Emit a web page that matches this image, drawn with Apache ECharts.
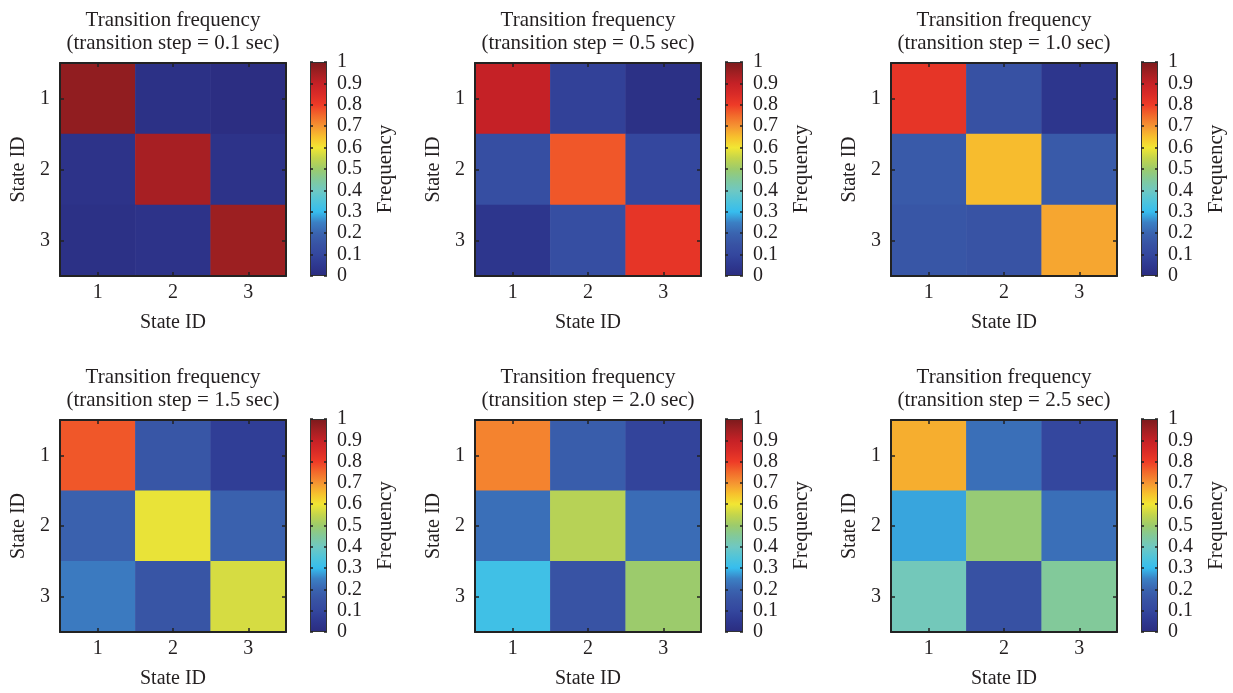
<!DOCTYPE html>
<html>
<head>
<meta charset="utf-8">
<script src="https://cdn.jsdelivr.net/npm/echarts@6/dist/echarts.min.js"></script>
<style>html,body{margin:0;padding:0;background:#fff;}#c{width:1233px;height:693px;}</style>
</head>
<body>
<div id="c"></div>
<script>
// ---- data ----
var states = ['1', '2', '3'];
var steps = ['0.1', '0.5', '1.0', '1.5', '2.0', '2.5'];
var freq01 = [[0.97, 0.02, 0.01], [0.03, 0.94, 0.03], [0.02, 0.03, 0.955]];
var freq05 = [[0.90, 0.08, 0.02], [0.13, 0.77, 0.10], [0.04, 0.13, 0.82]];
var freq10 = [[0.82, 0.14, 0.04], [0.17, 0.655, 0.17], [0.16, 0.15, 0.68]];
var freq15 = [[0.77, 0.16, 0.07], [0.19, 0.59, 0.19], [0.24, 0.155, 0.57]];
var freq20 = [[0.72, 0.18, 0.09], [0.22, 0.535, 0.215], [0.32, 0.15, 0.50]];
var freq25 = [[0.67, 0.22, 0.10], [0.28, 0.49, 0.22], [0.41, 0.14, 0.45]];
var matrices = [freq01, freq05, freq10, freq15, freq20, freq25];
var colorTicks = [0, 0.1, 0.2, 0.3, 0.4, 0.5, 0.6, 0.7, 0.8, 0.9, 1];
var colormap = ['#2b2c7f', '#2e3890', '#34479e', '#3853a4', '#3a64b0', '#3b80c4', '#36bdee',
  '#50c4da', '#6fc8c2', '#82c99a', '#9ccb6c', '#c3d54c', '#f2e633', '#f7c02d', '#f59432',
  '#f26a2b', '#ee3b27', '#d92b27', '#c52126', '#a01f22', '#7b1a1c'];

// ---- layout ----
var FONT = 'Liberation Serif';
var TXT = '#231f20';
var colLeft = [60, 475, 891];
var cbLeft = [310, 725, 1141];
var cbWidth = [17, 18, 17];
var rowTop = [63, 420];
var rowH = [213, 212];

var chart = echarts.init(document.getElementById('c'));
var grids = [], xAxes = [], yAxes = [], series = [], titles = [];

var stops = colormap.map(function (c, i) { return { offset: i / (colormap.length - 1), color: c }; });

for (var p = 0; p < 6; p++) {
  var col = p % 3, row = Math.floor(p / 3);
  var gTop = rowTop[row], gH = rowH[row];
  // heatmap grid
  grids.push({ left: colLeft[col], top: gTop, width: 226, height: gH });
  var hg = grids.length - 1;
  // colorbar grid
  grids.push({ left: cbLeft[col], top: gTop - 1, width: cbWidth[col], height: gH + 1 });
  var cg = grids.length - 1;

  var axLine = { show: true, lineStyle: { color: '#222', width: 2 } };
  var tick = { show: true, inside: true, alignWithLabel: true, length: 4, lineStyle: { color: '#222', width: 1.5 } };
  var lbl = { fontFamily: FONT, fontSize: 20, color: TXT };

  xAxes.push({ type: 'category', gridIndex: hg, data: states, position: 'bottom', z: 10,
    axisLine: axLine, axisTick: tick, splitLine: { show: false },
    axisLabel: Object.assign({ margin: 7 }, lbl),
    name: 'State ID', nameLocation: 'middle', nameGap: 37,
    nameTextStyle: { fontFamily: FONT, fontSize: 20, color: TXT } });
  var hx = xAxes.length - 1;
  xAxes.push({ type: 'category', gridIndex: hg, data: states, position: 'top', z: 10,
    axisLine: axLine, axisTick: tick, axisLabel: { show: false }, splitLine: { show: false } });
  xAxes.push({ type: 'category', gridIndex: cg, data: ['c'], show: false });
  var cx = xAxes.length - 1;

  yAxes.push({ type: 'category', gridIndex: hg, data: states, inverse: true, position: 'left', z: 10,
    axisLine: axLine, axisTick: tick, splitLine: { show: false },
    axisLabel: Object.assign({ margin: 10 }, lbl),
    name: 'State ID', nameLocation: 'middle', nameGap: 31, nameRotate: 90,
    nameTextStyle: { fontFamily: FONT, fontSize: 20, color: TXT } });
  var hy = yAxes.length - 1;
  yAxes.push({ type: 'category', gridIndex: hg, data: states, inverse: true, position: 'right', z: 10,
    axisLine: axLine, axisTick: tick, axisLabel: { show: false }, splitLine: { show: false } });

  var cbTick = { show: true, inside: true, length: 3, lineStyle: { color: '#222', width: 1.5 } };
  yAxes.push({ type: 'value', gridIndex: cg, min: 0, max: 1, interval: 0.1, position: 'right', z: 10,
    axisLine: { show: false }, axisTick: cbTick, splitLine: { show: false },
    axisLabel: Object.assign({ margin: 10, formatter: function (v) { return String(Math.round(v * 10) / 10); } }, lbl),
    name: 'Frequency', nameLocation: 'middle', nameGap: 48, nameRotate: 90,
    nameTextStyle: { fontFamily: FONT, fontSize: 21, color: TXT } });
  var cy = yAxes.length - 1;
  yAxes.push({ type: 'value', gridIndex: cg, min: 0, max: 1, interval: 0.1, position: 'left', z: 10,
    axisLine: { show: false }, axisTick: cbTick, axisLabel: { show: false }, splitLine: { show: false } });

  var data = [];
  matrices[p].forEach(function (r, i) { r.forEach(function (v, j) { data.push([j, i, v]); }); });
  series.push({ type: 'heatmap', xAxisIndex: hx, yAxisIndex: hy, data: data,
    itemStyle: { borderWidth: 0 }, emphasis: { disabled: true }, silent: true, z: 2 });

  titles.push({ text: 'Transition frequency\n(transition step = ' + steps[p] + ' sec)',
    left: colLeft[col] + 113, top: gTop - 54.5, textAlign: 'center', padding: 0,
    textStyle: { fontFamily: FONT, fontSize: 21, fontWeight: 'normal', color: TXT, lineHeight: 23 } });
}

// colorbars (drawn after heatmaps)
for (var q = 0; q < 6; q++) {
  series.push({ type: 'bar', xAxisIndex: 2 + q * 3, yAxisIndex: 2 + q * 4, data: [colorTicks[colorTicks.length - 1]],
    barWidth: '100%', silent: true, z: 2,
    itemStyle: { color: new echarts.graphic.LinearGradient(0, 1, 0, 0, stops), borderColor: '#333', borderWidth: 1 } });
}

chart.setOption({
  animation: false,
  backgroundColor: '#fff',
  title: titles,
  grid: grids,
  xAxis: xAxes,
  yAxis: yAxes,
  visualMap: { type: 'continuous', show: false, min: 0, max: 1, seriesIndex: [0, 1, 2, 3, 4, 5],
    inRange: { color: colormap } },
  series: series
});
</script>
</body>
</html>
